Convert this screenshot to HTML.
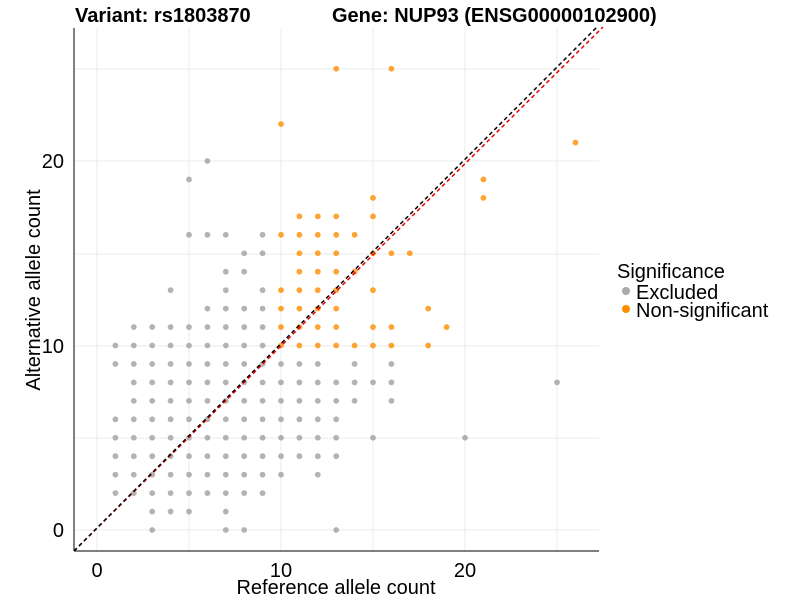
<!DOCTYPE html>
<html><head><meta charset="utf-8"><style>
body{margin:0;background:#fff;}
svg{display:block;font-family:"Liberation Sans",sans-serif;}
</style></head><body>
<svg width="800" height="600" xmlns="http://www.w3.org/2000/svg">
<g stroke="#ebebeb" stroke-width="1">
<line x1="97" y1="28" x2="97" y2="551"/><line x1="189" y1="28" x2="189" y2="551"/><line x1="281" y1="28" x2="281" y2="551"/><line x1="373" y1="28" x2="373" y2="551"/><line x1="465" y1="28" x2="465" y2="551"/><line x1="557" y1="28" x2="557" y2="551"/>
<line x1="74" y1="530" x2="599" y2="530"/><line x1="74" y1="438" x2="599" y2="438"/><line x1="74" y1="346" x2="599" y2="346"/><line x1="74" y1="254" x2="599" y2="254"/><line x1="74" y1="161" x2="599" y2="161"/><line x1="74" y1="69" x2="599" y2="69"/>
</g>
<g id="pts"></g>
<line x1="74" y1="551" x2="603" y2="27" stroke="#e00" stroke-width="1.5" stroke-dasharray="4,3"/>
<line x1="74" y1="551" x2="597" y2="27" stroke="#000" stroke-width="1.5" stroke-dasharray="4,3"/>
<line x1="74" y1="28" x2="74" y2="551" stroke="#000"/>
<line x1="74" y1="551" x2="599" y2="551" stroke="#000"/>
<g font-size="20" fill="#000">
<text x="97" y="577" text-anchor="middle">0</text><text x="281" y="577" text-anchor="middle">10</text><text x="465" y="577" text-anchor="middle">20</text>
<text x="64" y="537" text-anchor="end">0</text><text x="64" y="353" text-anchor="end">10</text><text x="64" y="168" text-anchor="end">20</text>
<text x="336" y="594" text-anchor="middle">Reference allele count</text>
<text transform="translate(40,290) rotate(-90)" text-anchor="middle">Alternative allele count</text>
<text x="617" y="278">Significance</text>
<text x="636" y="299">Excluded</text>
<text x="636" y="317">Non-significant</text>
</g>
<text x="75" y="22" font-size="20" font-weight="bold">Variant: rs1803870</text>
<text x="332" y="22" font-size="20" font-weight="bold">Gene: NUP93 (ENSG00000102900)</text>
<circle cx="626" cy="291" r="4" fill="#a9a9a9"/>
<circle cx="626" cy="309" r="4" fill="#ff8c00"/>
<script>
var g=document.getElementById('pts'),ns='http://www.w3.org/2000/svg';
function P(x,y,c){var e=document.createElementNS(ns,'circle');e.setAttribute('cx',97+18.4*x);e.setAttribute('cy',530-18.45*y);e.setAttribute('r',2.9);e.setAttribute('fill',c);e.setAttribute('fill-opacity',0.8);g.appendChild(e);}
function R(y,xs,c){xs.forEach(function(x){P(x,y,c)});}
function rng(a,b){var r=[];for(var i=a;i<=b;i++)r.push(i);return r;}
var G='#a0a0a0',O='#ff8c00';
R(0,[3,7,8,13],G);R(1,[3,4,5,7],G);R(2,rng(1,9),G);R(3,rng(1,10).concat([12]),G);
R(4,rng(1,13),G);R(5,rng(1,13).concat([15,20]),G);R(6,rng(1,13),G);R(7,rng(2,14).concat([16]),G);
R(8,rng(2,16).concat([25]),G);R(9,rng(1,12).concat([14,16]),G);R(10,rng(1,9),G);
R(11,[2,3,4,5,6,7,8,9],G);R(12,[6,7,8,9],G);R(13,[4,7,9],G);R(14,[7,8],G);R(15,[8,9],G);R(16,[5,6,7,9],G);R(19,[5],G);R(20,[6],G);
R(10,[10,11,12,13,14,15,16,18],O);R(11,[10,11,12,13,15,16,19],O);R(12,[10,11,12,13,18],O);R(13,[10,11,12,13,15],O);
R(14,[11,12,13,14],O);R(15,[11,12,13,15,16,17],O);R(16,[10,11,12,13,14],O);R(17,[11,12,13,15],O);
R(18,[15,21],O);R(19,[21],O);R(21,[26],O);R(22,[10],O);R(25,[13,16],O);
</script>
</svg>
</body></html>
